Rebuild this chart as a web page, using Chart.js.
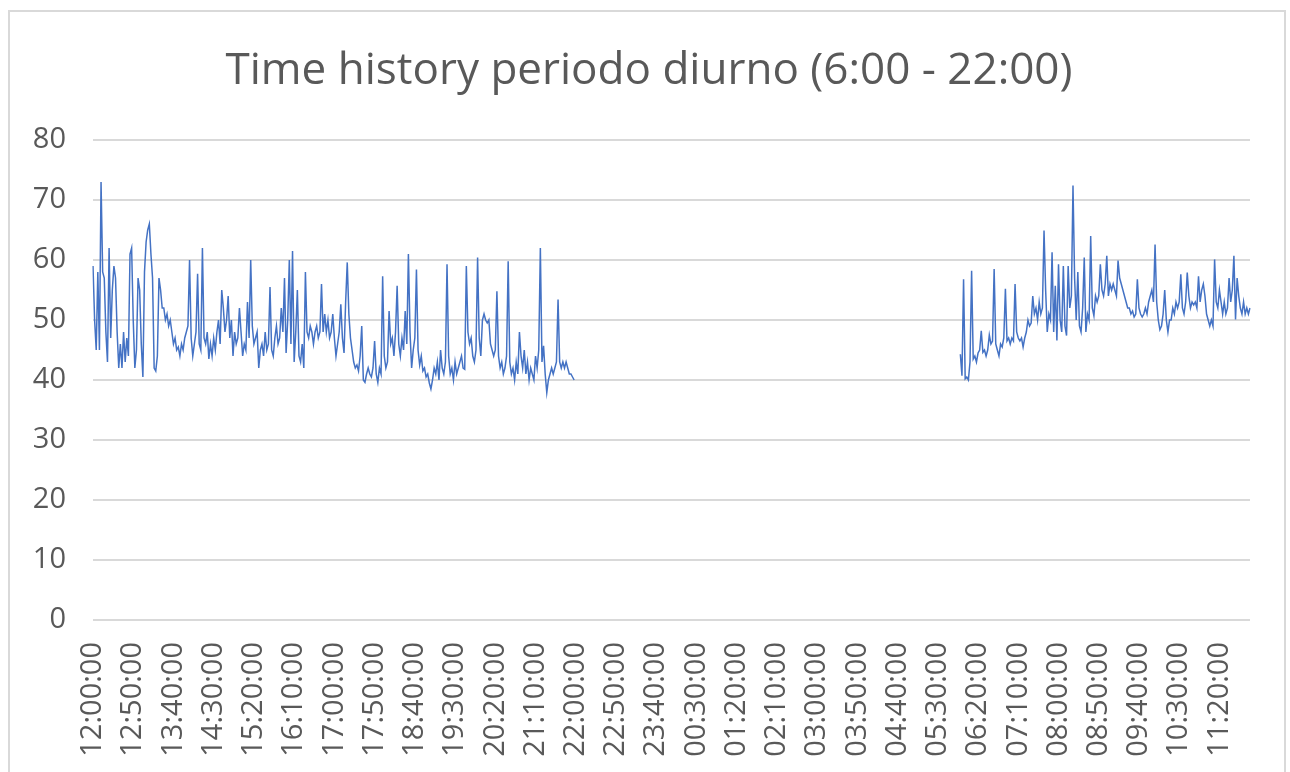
<!DOCTYPE html>
<html>
<head>
<meta charset="utf-8">
<script src="https://cdn.jsdelivr.net/npm/chart.js@4.4.1/dist/chart.umd.min.js"></script>
<style>
	body { margin: 0; background: #fff; }
	.wrap { position: relative; width: 1290px; height: 772px; overflow: hidden; }
	.frame {
		position: absolute; left: 8px; top: 10px; width: 1274px; height: 800px;
		border: 2px solid #d9d9d9; pointer-events: none;
	}
</style>
</head>
<body>
<div class="wrap">
	<canvas id="chart" width="1290" height="772"></canvas>
	<div class="frame"></div>
</div>
<script>
// Readings every 2 minutes, 12:00 -> 21:58 and 05:58 -> 11:58 (dB)

const afternoonValues = [
	59, 50, 45, 58, 45, 73, 58, 57, 48, 43,
	62, 47, 55, 59, 57, 48, 42, 46, 42, 48,
	43, 47, 44, 61, 62, 50, 42, 45, 57, 55,
	46, 40.5, 58, 63, 65, 66, 61, 57, 42, 41.5,
	44, 57, 55, 52, 52, 50, 51, 49, 50, 48,
	46, 47, 45, 45.5, 44, 46, 45, 47, 48, 49,
	60, 47, 44, 46, 48, 57.7, 46, 45, 62, 47,
	46, 48, 43.5, 46, 44, 47, 45, 48, 50, 46,
	55, 52, 48, 50, 54, 47, 50, 44, 48, 46,
	47, 52, 48, 44, 46, 45, 53, 47, 60, 49,
	46, 47, 48, 42, 45, 46, 44, 48, 45, 46,
	55.5, 45, 44, 47, 49, 46, 47, 52, 48, 57,
	44.5, 50, 60, 46, 61.5, 43, 48, 55, 44, 43,
	46, 42, 58, 48, 47, 49, 48, 46, 48, 49,
	47, 48, 56, 48, 51, 48, 50, 47, 48, 51,
	47, 44, 46, 48, 52.6, 47, 44.5, 53, 59.6, 51,
	47, 45, 43, 42, 42.5, 41.5, 44, 49, 40, 39.6,
	41, 42, 41, 40.5, 42, 46.5, 41, 39.6, 42, 41,
	57.3, 44, 42, 43, 51.5, 46, 47, 44, 48, 55.7,
	46, 44, 47, 45, 51.5, 46, 61, 48, 42, 45,
	47, 58.4, 45, 42.5, 44, 41.5, 42, 40.5, 41, 39.5,
	38.5, 40, 42, 41, 43, 40, 45, 42, 41, 43,
	59.3, 44, 41, 42, 40, 43, 41, 42, 43, 44,
	42, 41.8, 59, 48, 46, 47, 44, 43, 45, 60.4,
	47, 44, 50, 51, 50, 49.5, 50, 46, 45, 44,
	45, 54.8, 44, 42, 43, 41, 42, 44, 59.8, 43,
	41, 42, 40, 43, 41, 48, 44, 42, 45, 41,
	43, 40, 42, 41, 40, 44, 42, 45, 62, 43,
	45.7, 41, 37.9, 40, 41, 42, 41, 42, 43, 53.4,
	43, 42, 43, 42, 43, 42, 41, 41, 40.5, 40,
];

const morningValues = [
	44.3, 40.7, 56.8, 40.2, 40.5, 40, 43, 58.2, 43.5, 44,
	43, 44.5, 45, 48.2, 44.6, 45, 44, 45, 47.5, 46,
	46.5, 58.5, 46, 45, 44, 46, 45.5, 47, 55.2, 46.5,
	47, 46, 47, 46.5, 56, 48, 47, 46.5, 47, 45.5,
	47, 48, 50, 49, 49.5, 54, 51, 52, 50, 53,
	51, 52, 64.9, 55, 48, 51, 50, 61.3, 48, 55.7,
	46.6, 59.3, 50, 48, 59, 49, 47.4, 59, 52, 54,
	72.4, 57, 50, 58, 49, 48, 52, 60.4, 48, 51,
	50, 64, 52, 50.7, 54, 53, 54, 59.3, 55, 54,
	56, 60.7, 54, 56, 55, 56, 55, 54, 59.9, 57,
	56, 55, 54, 53, 52, 52, 51, 51.5, 50.5, 51,
	56.8, 52, 51, 50.5, 51, 52, 51, 53, 54, 55,
	53, 62.6, 53, 50, 48.4, 49, 51, 55, 50, 48,
	50, 50, 52, 51, 53, 52, 53, 57.6, 52, 51,
	53, 57.9, 54, 52, 53, 52.5, 53, 52, 57.3, 53,
	55, 56, 54, 51, 50, 49, 50, 49, 60.1, 53,
	52, 55, 53, 51, 53, 51, 52, 57, 53, 55,
	60.7, 50.1, 57, 54, 52, 51, 53, 51, 52, 51,
	52,
];

// 22:00 -> 05:56 has no readings
const nightGapLength = 239;

const tickLabels = [
	"12:00:00", "12:50:00", "13:40:00", "14:30:00", "15:20:00", "16:10:00",
	"17:00:00", "17:50:00", "18:40:00", "19:30:00", "20:20:00", "21:10:00",
	"22:00:00", "22:50:00", "23:40:00", "00:30:00", "01:20:00", "02:10:00",
	"03:00:00", "03:50:00", "04:40:00", "05:30:00", "06:20:00", "07:10:00",
	"08:00:00", "08:50:00", "09:40:00", "10:30:00", "11:20:00",
];
const tickEvery = 25; // one label every 50 minutes

const series = afternoonValues
	.concat(new Array(nightGapLength).fill(null))
	.concat(morningValues);

const pad = (n) => String(n).padStart(2, "0");
const categories = series.map((_, i) => {
	const m = (12 * 60 + i * 2) % 1440;
	return `${pad(Math.floor(m / 60))}:${pad(m % 60)}:00`;
});

const textColor = "#595959";
const gridColor = "#d9d9d9";
const fontFamily = "'Open Sans', 'Noto Sans', sans-serif";

new Chart(document.getElementById("chart").getContext("2d"), {
	type: "line",
	data: {
		labels: categories,
		datasets: [
			{
				label: "Leq",
				data: series,
				borderColor: "#4472c4",
				borderWidth: 1.5,
				pointRadius: 0,
				tension: 0,
				spanGaps: false,
			},
		],
	},
	options: {
		responsive: false,
		animation: false,
		devicePixelRatio: 1,
		layout: { padding: { left: 8, right: 0, top: 0, bottom: 0 } },
		plugins: {
			legend: { display: false },
			tooltip: { enabled: false },
			title: {
				display: true,
				text: "Time history periodo diurno (6:00 - 22:00)",
				color: textColor,
				font: { family: fontFamily, size: 44, weight: "normal" },
				padding: { top: 45, bottom: 42.2 },
			},
		},
		scales: {
			x: {
				grid: { display: false },
				border: { display: false },
				ticks: {
					autoSkip: false,
					minRotation: 90,
					maxRotation: 90,
					padding: 14,
					color: textColor,
					font: { family: fontFamily, size: 29 },
					callback: (val, idx) =>
						idx % tickEvery === 0 ? tickLabels[idx / tickEvery] : null,
				},
				afterFit: (scale) => {
					scale.height = 152;
				},
			},
			y: {
				min: 0,
				max: 80,
				border: { display: false },
				grid: { color: gridColor, lineWidth: 2, drawTicks: false },
				ticks: {
					stepSize: 10,
					padding: 27,
					color: textColor,
					font: { family: fontFamily, size: 29 },
				},
				afterFit: (scale) => {
					scale.width = 85;
				},
			},
			// empty strip on the right, keeps the plot inside the frame
			yRight: {
				position: "right",
				grid: { display: false },
				border: { display: false },
				ticks: { display: false },
				afterFit: (scale) => {
					scale.width = 40;
				},
			},
		},
	},
});
</script>
</body>
</html>
